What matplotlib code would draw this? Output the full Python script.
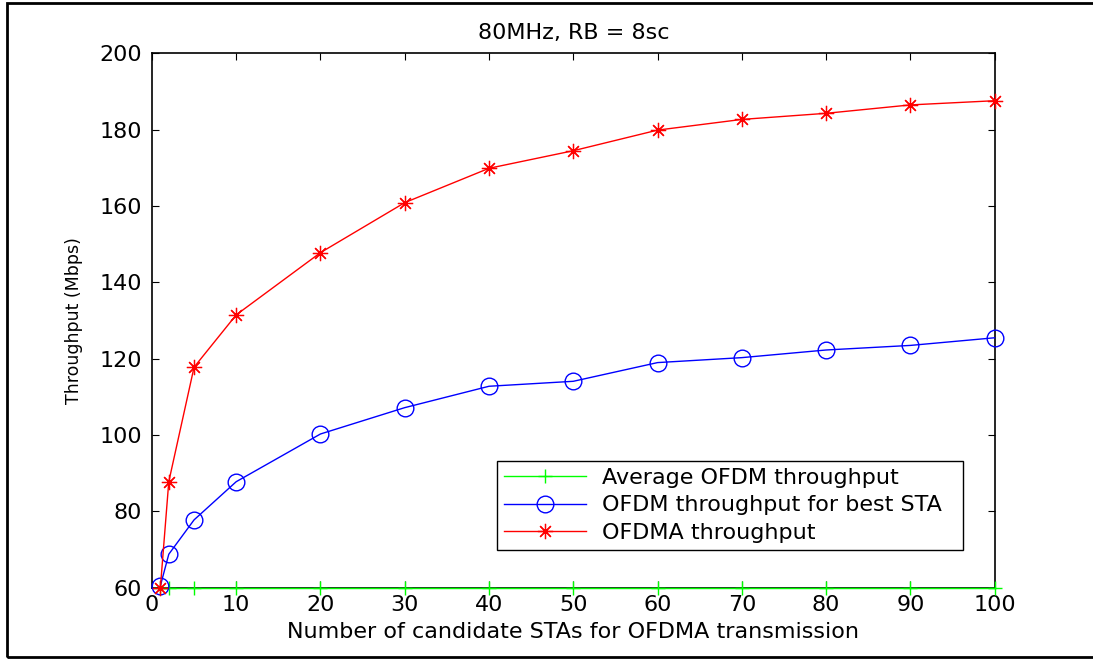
import matplotlib.pyplot as plt
from matplotlib.patches import Rectangle

plt.rcParams['font.family'] = ['DejaVu Sans']

# number of candidate STAs
n_sta = [1, 2, 5, 10, 20, 30, 40, 50, 60, 70, 80, 90, 100]
# throughput (Mbps)
avg_ofdm = [60, 60, 60, 60, 60, 60, 60, 60, 60, 60, 60, 60, 60]
best_sta = [60.5, 68.8, 77.8, 87.8, 100.3, 107.2, 112.8, 114.1, 119.0, 120.3, 122.3, 123.5, 125.5]
ofdma = [60, 87.8, 117.8, 131.5, 147.8, 160.9, 169.9, 174.5, 179.9, 182.7, 184.3, 186.5, 187.6]

fs = 16

fig = plt.figure(figsize=(10.93, 6.59), dpi=100)
ax = fig.add_axes([0.139, 0.108, 0.771, 0.811])

ax.plot(n_sta, avg_ofdm, color='#00ff00', marker='+', markersize=10, lw=1,
        label='Average OFDM throughput', clip_on=False, zorder=3)
ax.plot(n_sta, best_sta, color='blue', marker='o', markersize=12, mfc='none', lw=1,
        label='OFDM throughput for best STA', clip_on=False, zorder=3)
ax.plot(n_sta, ofdma, color='red', marker=(8, 2, 0), markersize=11, mew=0.9, lw=1,
        label='OFDMA throughput', clip_on=False, zorder=3)

ax.set_xlim(0, 100)
ax.set_ylim(60, 200)
ax.set_xticks(range(0, 101, 10))
ax.set_yticks(range(60, 201, 20))
ax.tick_params(direction='in', top=True, right=True, labelsize=fs, length=5)
ax.tick_params(axis='x', pad=5)
ax.tick_params(axis='y', pad=7)
for s in ax.spines.values():
    s.set_linewidth(1.2)

ax.set_title('80MHz, RB = 8sc', fontsize=fs, pad=10)
ax.set_xlabel('Number of candidate STAs for OFDMA transmission', fontsize=fs, labelpad=5)
ax.set_ylabel('Throughput (Mbps)', fontsize=12.5, labelpad=12)

leg = ax.legend(loc='lower left', bbox_to_anchor=(0.41, 0.071, 0.552, 0.169),
                mode='expand', fontsize=fs, fancybox=False, edgecolor='black',
                framealpha=1, handlelength=3.7, borderaxespad=0, labelspacing=0.35,
                borderpad=0.3, handletextpad=0.7)
leg.get_frame().set_linewidth(1.0)

# outer frame
fig.patches.append(Rectangle((7 / 1093, 2 / 659), 1.1, 654 / 659, transform=fig.transFigure,
                             fill=False, edgecolor='black', lw=2))

fig.savefig('out.png', dpi=100)
